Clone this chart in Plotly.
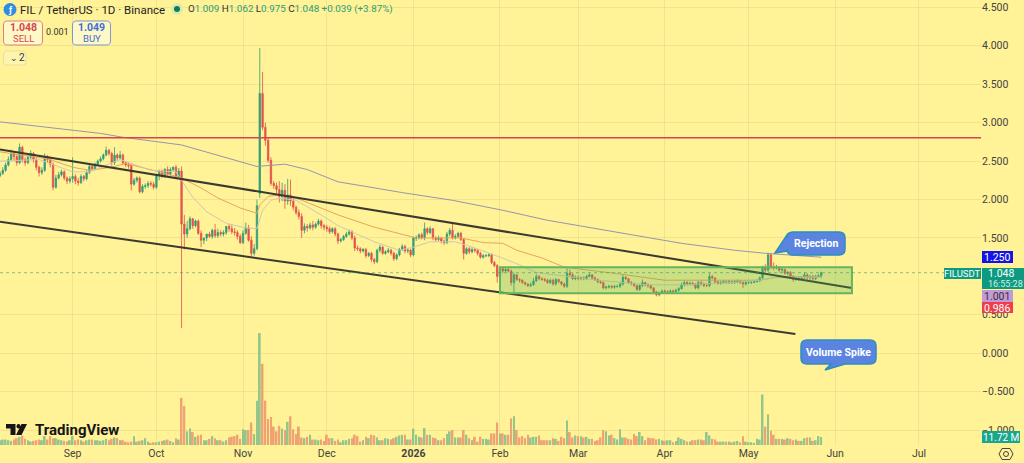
import pandas as pd
import plotly.graph_objects as go

# Daily FIL/USDT candles, 6 Aug 2025 to 27 May 2026
opens = [
    2.31,2.34,2.38,2.45,2.52,2.60,2.56,2.48,2.68,2.52,2.48,2.55,2.60,2.52,2.42,2.35,2.38,2.56,2.52,2.46,2.16,2.28,2.32,2.36,2.28,2.24,
    2.27,2.30,2.24,2.22,2.30,2.27,2.35,2.43,2.40,2.46,2.50,2.53,2.58,2.64,2.60,2.48,2.58,2.54,2.58,2.48,2.45,2.44,2.20,2.25,2.28,2.10,2.17,2.18,2.21,2.20,
    2.16,2.31,2.37,2.30,2.39,2.33,2.39,2.42,2.29,2.37,1.68,1.55,1.62,1.75,1.66,1.72,1.56,1.47,1.50,1.55,1.52,1.60,1.53,1.57,1.55,1.57,1.65,1.62,1.58,1.57,1.52,
    1.44,1.56,1.63,1.47,1.30,1.36,2.08,3.38,2.94,2.77,2.51,2.21,2.18,2.13,2.04,2.12,1.98,2.06,1.98,1.90,1.83,1.78,1.60,1.65,1.63,1.67,1.64,1.68,1.72,1.66,
    1.64,1.62,1.58,1.62,1.55,1.46,1.48,1.52,1.55,1.58,1.50,1.37,1.36,1.33,1.35,1.27,1.30,1.22,1.19,1.34,1.38,1.30,1.32,1.34,1.30,1.23,1.28,1.35,1.39,1.33,1.34,
    1.28,1.50,1.50,1.54,1.50,1.62,1.57,1.62,1.50,1.48,1.50,1.46,1.44,1.55,1.60,1.50,1.52,1.56,1.48,1.30,1.36,1.32,1.35,1.34,1.30,1.25,1.27,1.27,1.28,1.18,1.14,
    1.00,1.10,1.07,1.09,1.07,0.92,1.02,0.96,0.95,0.92,0.90,0.88,0.89,0.94,1.00,0.97,0.96,0.95,0.92,0.95,0.90,0.96,0.93,0.90,0.87,1.04,1.02,0.97,
    0.99,0.97,0.98,0.97,1.00,1.02,0.98,0.96,0.93,0.92,0.85,0.86,0.87,0.86,0.87,0.87,0.90,0.99,0.97,0.92,0.91,0.88,0.83,0.88,0.92,0.89,0.88,0.85,0.80,0.76,0.79,
    0.81,0.80,0.80,0.81,0.80,0.82,0.84,0.89,0.92,0.90,0.91,0.90,0.85,0.92,0.90,0.88,0.88,1.00,0.98,0.93,0.91,0.92,0.93,0.92,0.93,0.92,0.93,0.94,0.92,0.90,
    0.92,0.92,0.92,0.93,0.94,0.98,1.12,1.08,1.28,1.12,1.11,1.12,1.08,1.09,1.04,1.05,1.00,0.96,0.98,0.97,0.98,1.02,0.98,1.00,0.97,1.00,1.009,
]
highs = [
    2.37,2.42,2.48,2.56,2.65,2.62,2.58,2.73,2.70,2.55,2.58,2.64,2.62,2.55,2.44,2.42,2.60,2.58,2.54,2.48,2.32,2.36,2.39,2.38,2.30,2.30,
    2.55,2.33,2.28,2.33,2.32,2.38,2.45,2.46,2.48,2.52,2.56,2.60,2.69,2.66,2.62,2.68,2.60,2.63,2.60,2.50,2.48,2.46,2.28,2.30,2.30,2.20,2.21,2.24,2.24,2.23,
    2.33,2.39,2.39,2.41,2.43,2.42,2.43,2.45,2.41,2.43,1.80,1.72,1.78,1.76,1.74,1.74,1.60,1.50,1.53,1.58,1.62,1.68,1.62,1.60,1.60,1.60,1.68,1.67,1.63,1.60,1.55,
    1.60,1.70,1.67,1.52,1.42,2.00,3.97,3.66,3.00,2.80,2.55,2.24,2.22,2.24,2.22,2.20,2.27,2.26,2.04,1.92,1.87,1.82,1.69,1.68,1.70,1.72,1.70,1.75,1.74,1.68,
    1.67,1.65,1.64,1.64,1.57,1.50,1.54,1.58,1.61,1.60,1.53,1.40,1.38,1.37,1.37,1.32,1.32,1.24,1.36,1.41,1.40,1.34,1.37,1.36,1.32,1.30,1.37,1.42,1.41,1.37,1.36,
    1.52,1.53,1.56,1.57,1.70,1.64,1.65,1.63,1.52,1.53,1.51,1.48,1.58,1.63,1.70,1.55,1.58,1.58,1.49,1.38,1.38,1.38,1.37,1.35,1.32,1.29,1.29,1.30,1.30,1.20,1.16,
    1.12,1.12,1.12,1.11,1.09,1.05,1.03,0.98,0.96,0.93,0.91,0.92,0.98,1.03,1.02,0.99,0.98,0.97,0.97,0.97,0.98,0.97,0.94,0.92,1.11,1.09,1.04,1.01,
    1.01,1.00,1.00,1.02,1.04,1.03,1.00,0.97,0.95,0.93,0.88,0.89,0.89,0.89,0.89,0.92,1.03,1.00,0.98,0.94,0.92,0.89,0.90,0.96,0.93,0.91,0.89,0.86,0.81,0.80,0.83,
    0.83,0.82,0.83,0.83,0.84,0.86,0.92,0.95,0.94,0.93,0.93,0.91,0.94,0.94,0.92,0.90,1.04,1.02,0.99,0.94,0.94,0.95,0.94,0.95,0.94,0.95,0.96,0.95,0.93,0.94,
    0.94,0.94,0.95,0.96,1.00,1.14,1.16,1.31,1.30,1.18,1.15,1.13,1.11,1.10,1.07,1.07,1.02,1.00,1.00,1.00,1.05,1.04,1.02,1.02,1.02,1.03,1.062,
]
lows = [
    2.29,2.32,2.36,2.43,2.50,2.50,2.44,2.46,2.48,2.44,2.46,2.52,2.48,2.38,2.30,2.32,2.36,2.48,2.42,2.12,2.14,2.26,2.30,2.25,2.20,2.21,
    2.22,2.20,2.18,2.20,2.24,2.25,2.33,2.37,2.38,2.44,2.48,2.51,2.56,2.57,2.44,2.45,2.50,2.52,2.45,2.42,2.40,2.12,2.18,2.22,2.08,2.08,2.14,2.15,2.17,2.13,
    2.14,2.25,2.28,2.28,2.31,2.31,2.37,2.27,2.27,0.33,1.35,1.50,1.60,1.62,1.64,1.54,1.38,1.42,1.46,1.50,1.49,1.50,1.50,1.52,1.52,1.54,1.58,1.55,1.53,1.48,1.42,
    1.42,1.54,1.45,1.26,1.27,1.34,2.02,2.90,2.70,2.48,2.18,2.14,2.08,1.96,1.98,1.88,1.93,1.92,1.86,1.80,1.74,1.50,1.56,1.58,1.61,1.60,1.62,1.66,1.62,1.60,
    1.58,1.55,1.56,1.52,1.42,1.44,1.46,1.50,1.53,1.47,1.33,1.33,1.30,1.31,1.24,1.25,1.19,1.16,1.17,1.31,1.28,1.28,1.30,1.27,1.20,1.21,1.26,1.33,1.30,1.30,1.25,
    1.26,1.46,1.48,1.48,1.47,1.54,1.55,1.47,1.45,1.46,1.43,1.41,1.42,1.52,1.48,1.48,1.50,1.46,1.22,1.28,1.29,1.30,1.31,1.27,1.23,1.23,1.25,1.25,1.16,1.12,0.92,
    0.98,1.04,1.05,1.05,0.88,0.78,0.94,0.92,0.90,0.88,0.86,0.86,0.88,0.93,0.95,0.94,0.93,0.90,0.90,0.88,0.88,0.91,0.88,0.85,0.85,0.99,0.95,0.95,
    0.95,0.95,0.95,0.95,0.99,0.96,0.94,0.91,0.90,0.83,0.83,0.84,0.84,0.84,0.85,0.85,0.88,0.95,0.90,0.88,0.86,0.81,0.81,0.86,0.87,0.85,0.83,0.78,0.74,0.74,0.77,
    0.78,0.78,0.78,0.78,0.78,0.80,0.83,0.87,0.88,0.88,0.88,0.83,0.83,0.88,0.86,0.86,0.86,0.96,0.91,0.89,0.89,0.90,0.90,0.90,0.90,0.90,0.91,0.90,0.85,0.88,
    0.90,0.90,0.91,0.92,0.93,0.96,1.05,1.06,1.10,1.08,1.09,1.05,1.05,1.02,1.01,0.98,0.93,0.94,0.94,0.95,0.96,0.95,0.95,0.94,0.95,0.98,0.975,
]
closes = [
    2.34,2.38,2.45,2.52,2.60,2.56,2.48,2.68,2.52,2.48,2.55,2.60,2.52,2.42,2.35,2.38,2.56,2.52,2.46,2.16,2.28,2.32,2.36,2.28,2.24,2.27,
    2.30,2.24,2.22,2.30,2.27,2.35,2.43,2.40,2.46,2.50,2.53,2.58,2.64,2.60,2.48,2.58,2.54,2.58,2.48,2.45,2.44,2.20,2.25,2.28,2.10,2.17,2.18,2.21,2.20,2.16,
    2.31,2.37,2.30,2.39,2.33,2.39,2.42,2.29,2.37,1.68,1.55,1.62,1.75,1.66,1.72,1.56,1.47,1.50,1.55,1.52,1.60,1.53,1.57,1.55,1.57,1.65,1.62,1.58,1.57,1.52,1.44,
    1.56,1.63,1.47,1.30,1.36,1.92,3.38,2.94,2.77,2.51,2.21,2.18,2.13,2.04,2.12,1.98,2.06,1.98,1.90,1.83,1.78,1.60,1.65,1.63,1.67,1.64,1.68,1.72,1.66,1.64,
    1.62,1.58,1.62,1.55,1.46,1.48,1.52,1.55,1.58,1.50,1.37,1.36,1.33,1.35,1.27,1.30,1.22,1.19,1.34,1.38,1.30,1.32,1.34,1.30,1.23,1.28,1.35,1.39,1.33,1.34,1.28,
    1.50,1.50,1.54,1.50,1.62,1.57,1.62,1.50,1.48,1.50,1.46,1.44,1.55,1.60,1.50,1.52,1.56,1.48,1.30,1.36,1.32,1.35,1.34,1.30,1.25,1.27,1.27,1.28,1.18,1.14,1.00,
    1.10,1.07,1.09,1.07,0.92,1.02,0.96,0.95,0.92,0.90,0.88,0.89,0.94,1.00,0.97,0.96,0.95,0.92,0.95,0.90,0.96,0.93,0.90,0.87,1.04,1.02,0.97,0.99,
    0.97,0.98,0.97,1.00,1.02,0.98,0.96,0.93,0.92,0.85,0.86,0.87,0.86,0.87,0.87,0.90,0.99,0.97,0.92,0.91,0.88,0.83,0.88,0.92,0.89,0.88,0.85,0.80,0.76,0.79,0.81,
    0.80,0.80,0.81,0.80,0.82,0.84,0.89,0.92,0.90,0.91,0.90,0.85,0.92,0.90,0.88,0.88,1.00,0.98,0.93,0.91,0.92,0.93,0.92,0.93,0.92,0.93,0.94,0.92,0.90,0.92,
    0.92,0.92,0.93,0.94,0.98,1.12,1.08,1.28,1.12,1.11,1.12,1.08,1.09,1.04,1.05,1.00,0.96,0.98,0.97,0.98,1.02,0.98,1.00,0.97,1.00,1.009,1.048,
]
# Daily volume in millions of FIL
volumes = [
    7,8,8,7,6,8,10,12,14,9,7,5,6,7,8,7,13,8,13,10,10,8,7,6,5,7,
    13,7,8,7,5,7,8,8,7,7,6,7,9,7,9,11,10,7,7,5,4,5,13,5,6,7,10,5,3,4,
    4,5,6,7,8,6,4,10,8,69,57,20,24,19,12,14,15,7,7,9,13,10,7,7,5,7,11,12,13,15,9,
    23,22,22,33,16,65,164,119,65,38,41,27,20,28,24,22,34,42,23,16,27,11,10,12,15,8,8,7,8,6,
    15,10,10,6,8,4,7,7,9,10,15,13,5,7,12,10,15,14,11,7,7,10,9,8,10,12,14,15,15,8,8,
    24,15,12,11,25,15,15,11,10,7,7,10,16,20,22,11,11,11,22,15,10,7,12,5,12,9,9,8,17,17,33,
    17,17,15,15,39,42,22,11,13,10,15,11,12,12,14,7,7,7,7,10,9,6,12,10,36,19,11,14,
    13,13,11,12,9,9,6,7,11,22,20,14,15,10,8,23,11,11,9,8,16,13,19,13,7,11,10,10,8,9,7,
    6,7,7,4,6,11,9,7,5,5,7,7,8,8,7,19,14,9,8,5,5,5,5,5,4,5,6,4,13,5,
    4,4,3,9,8,74,27,45,21,15,9,9,9,8,10,9,7,8,6,6,10,11,11,6,7,13,11.72,
]
dates = pd.date_range("2025-08-06", periods=len(closes), freq="D")

# Moving averages, sampled at the dates where they bend
ema_long_dates = ["2025-08-06","2025-09-11","2025-09-19","2025-10-10","2025-11-06","2025-11-16","2025-11-24","2025-12-05","2025-12-15","2025-12-28","2026-01-15","2026-02-02","2026-02-18","2026-03-14","2026-04-07","2026-04-26","2026-05-07","2026-05-27"]
ema_long_vals = [3.01,2.86,2.81,2.71,2.43,2.46,2.39,2.23,2.17,2.09,1.99,1.86,1.73,1.58,1.43,1.34,1.30,1.25]
ema_mid_dates = ["2025-08-06","2025-08-23","2025-09-01","2025-09-07","2025-09-15","2025-09-20","2025-10-02","2025-10-10","2025-10-17","2025-10-23","2025-10-31","2025-11-06","2025-11-07","2025-11-10","2025-11-14","2025-11-20","2025-12-05","2025-12-18","2026-01-02","2026-01-18","2026-01-26","2026-02-02","2026-02-07","2026-02-16","2026-02-24","2026-03-14","2026-04-01","2026-05-05","2026-05-11","2026-05-27"]
ema_mid_vals = [2.62,2.53,2.42,2.38,2.42,2.47,2.36,2.28,2.15,2.02,1.89,1.82,1.93,2.04,2.06,2.02,1.80,1.64,1.50,1.50,1.44,1.43,1.34,1.24,1.12,1.04,0.95,0.95,0.99,1.00]
ema_short_dates = ["2025-08-06","2025-08-20","2025-09-01","2025-09-07","2025-09-18","2025-09-29","2025-10-08","2025-10-10","2025-10-14","2025-10-19","2025-10-26","2025-11-02","2025-11-06","2025-11-08","2025-11-11","2025-11-14","2025-11-20","2025-11-29","2025-12-05","2025-12-18","2025-12-27","2026-01-01","2026-01-07","2026-01-16","2026-01-23","2026-02-01","2026-02-08","2026-02-14","2026-02-27","2026-03-08","2026-03-26","2026-04-07","2026-04-25","2026-05-05","2026-05-11","2026-05-27"]
ema_short_vals = [2.50,2.52,2.36,2.36,2.52,2.38,2.36,2.25,2.03,1.84,1.69,1.63,1.62,1.86,1.99,2.02,1.99,1.80,1.66,1.45,1.34,1.38,1.45,1.45,1.37,1.25,1.15,1.05,0.99,0.95,0.89,0.89,0.92,0.95,0.99,0.986]

# Descending channel drawn on the chart
channel_upper_dates = ["2025-08-06","2026-06-07"]
channel_upper_vals = [2.65,0.85]
channel_lower_dates = ["2025-08-06","2026-05-17 18:00"]
channel_lower_vals = [1.71,0.25]
range_dates = ["2026-02-01","2026-06-07"]
range_prices = [0.78,1.12]
resistance_price = 2.805
last_price = 1.048

price_ticks = [4.5,4.0,3.5,3.0,2.5,2.0,1.5,0.5,0.0,-0.5,-1.0]
price_tick_text = ["4.500","4.000","3.500","3.000","2.500","2.000","1.500","0.500","0.000","−0.500","−1.000"]
month_ticks = ["2025-09-01","2025-10-01","2025-11-01","2025-12-01","2026-01-01","2026-02-01","2026-03-01","2026-04-01","2026-05-01","2026-06-01","2026-07-01"]
month_text = ["Sep","Oct","Nov","Dec","<b>2026</b>","Feb","Mar","Apr","May","Jun","Jul"]

BG = "#FFF297"
UP = "#2E9C78"
DOWN = "#E2504C"
VOL_UP = "#93C58C"
VOL_DOWN = "#EFA273"
GRID = "rgba(150,140,90,0.13)"
FONT = "Roboto"
PLOT_W, PLOT_H = 981, 445


def px(x):
    return x / PLOT_W


def py(y):
    return 1 - y / PLOT_H


def rounded_path(x0, y0, x1, y1, r, tail=None):
    """Rounded box in pixel terms, with an optional speech-bubble tail."""
    def pt(x, y):
        return f"{px(x):.5f},{py(y):.5f}"
    parts = [f"M{pt(x0 + r, y0)}", f"L{pt(x1 - r, y0)}", f"Q{pt(x1, y0)} {pt(x1, y0 + r)}",
             f"L{pt(x1, y1 - r)}", f"Q{pt(x1, y1)} {pt(x1 - r, y1)}"]
    if tail and tail["side"] == "bottom":
        parts += [f"L{pt(tail['b'], y1)}", f"L{pt(*tail['tip'])}", f"L{pt(tail['a'], y1)}"]
    parts += [f"L{pt(x0 + r, y1)}", f"Q{pt(x0, y1)} {pt(x0, y1 - r)}"]
    if tail and tail["side"] == "left":
        parts += [f"L{pt(x0, tail['b'])}", f"L{pt(*tail['tip'])}", f"L{pt(x0, tail['a'])}"]
    parts += [f"L{pt(x0, y0 + r)}", f"Q{pt(x0, y0)} {pt(x0 + r, y0)}", "Z"]
    return " ".join(parts)


def label(x, y, text, size=11, color="#333", anchor="left", **kw):
    return dict(xref="paper", yref="paper", x=px(x), y=py(y), text=text, showarrow=False,
                xanchor=anchor, yanchor="middle", font=dict(size=size, color=color, family=FONT), **kw)


def tag_box(x0, y0, x1, y1, color):
    return dict(type="rect", xref="paper", yref="paper", x0=px(x0), x1=px(x1), y0=py(y1), y1=py(y0),
                fillcolor=color, line_width=0)


vol_colors = [VOL_UP if c >= o else VOL_DOWN for o, c in zip(opens, closes)]

fig = go.Figure()
fig.add_trace(go.Bar(x=dates, y=volumes, yaxis="y2", marker=dict(color=vol_colors, line_width=0), hoverinfo="skip"))
fig.add_trace(go.Candlestick(
    x=dates, open=opens, high=highs, low=lows, close=closes, yaxis="y", whiskerwidth=0,
    increasing=dict(line=dict(color=UP, width=0.8), fillcolor=UP),
    decreasing=dict(line=dict(color=DOWN, width=0.8), fillcolor=DOWN),
))
for xs, ys, color, width in [
    (ema_long_dates, ema_long_vals, "#9596AE", 1),
    (ema_mid_dates, ema_mid_vals, "#E9A45E", 1),
    (ema_short_dates, ema_short_vals, "#CFC9B4", 1),
    (channel_upper_dates, channel_upper_vals, "#3A3A30", 2),
    (channel_lower_dates, channel_lower_vals, "#3A3A30", 2),
]:
    fig.add_trace(go.Scatter(x=xs, y=ys, mode="lines", line=dict(color=color, width=width), hoverinfo="skip"))

shapes = [
    dict(type="rect", xref="x", yref="y", x0=range_dates[0], x1=range_dates[1], y0=range_prices[0], y1=range_prices[1],
         fillcolor="rgba(76,175,80,0.28)", line=dict(color="#63B560", width=2)),
    dict(type="line", xref="paper", yref="y", x0=0, x1=1, y0=resistance_price, y1=resistance_price,
         line=dict(color="#D9434F", width=1.5)),
    dict(type="line", xref="paper", yref="y", x0=0, x1=1, y0=last_price, y1=last_price,
         line=dict(color="rgba(40,150,110,0.55)", width=1, dash="dot")),
    # Callouts
    dict(type="path", xref="paper", yref="paper", fillcolor="#5B84E0", line=dict(color="#2B8FBE", width=1.5),
         path=rounded_path(787, 232, 845, 255, 6, dict(side="left", a=235, b=251, tip=(775, 253)))),
    dict(type="path", xref="paper", yref="paper", fillcolor="#5B84E0", line=dict(color="#2B8FBE", width=1.5),
         path=rounded_path(801, 340, 876, 364, 6, dict(side="bottom", a=831, b=845, tip=(825, 370)))),
    # Sell / buy / collapse buttons
    dict(type="path", xref="paper", yref="paper", fillcolor="rgba(255,250,215,0.75)", line=dict(color="#D9808A", width=1),
         path=rounded_path(3.5, 21, 42.5, 45, 4)),
    dict(type="path", xref="paper", yref="paper", fillcolor="rgba(255,250,215,0.75)", line=dict(color="#7F97D0", width=1),
         path=rounded_path(72.5, 21, 110.5, 45, 4)),
    dict(type="path", xref="paper", yref="paper", fillcolor="rgba(255,250,215,0.35)", line=dict(color="#E9DFA0", width=1),
         path=rounded_path(3.5, 51, 26, 65, 3)),
    # Symbol icon and market status dot
    dict(type="circle", xref="paper", yref="paper", x0=px(3.5), x1=px(16.5), y0=py(16), y1=py(3), fillcolor="#2F8EE0", line_width=0),
    dict(type="circle", xref="paper", yref="paper", x0=px(171), x1=px(183), y0=py(15), y1=py(3), fillcolor="#DDEBA8", line_width=0),
    dict(type="circle", xref="paper", yref="paper", x0=px(174), x1=px(180), y0=py(12), y1=py(6), fillcolor="#0B7C5E", line_width=0),
    # Wordmark glyph
    dict(type="path", xref="paper", yref="paper", fillcolor="#15151A", line_width=0,
         path=f"M{px(6)},{py(424)} L{px(15.5)},{py(424)} L{px(15.5)},{py(435)} L{px(10.5)},{py(435)} L{px(10.5)},{py(428.5)} L{px(6)},{py(428.5)} Z"),
    dict(type="circle", xref="paper", yref="paper", x0=px(16.5), x1=px(20.5), y0=py(428.5), y1=py(424), fillcolor="#15151A", line_width=0),
    dict(type="path", xref="paper", yref="paper", fillcolor="#15151A", line_width=0,
         path=f"M{px(21.5)},{py(424)} L{px(27)},{py(424)} L{px(21.5)},{py(435)} L{px(16)},{py(435)} Z"),
    # Axis settings icon
    dict(type="path", xref="paper", yref="paper", fillcolor="rgba(0,0,0,0)", line=dict(color="#444", width=1),
         path=f"M{px(1002)},{py(448.5)} L{px(1010)},{py(448.5)} L{px(1013)},{py(454)} L{px(1010)},{py(459.5)} L{px(1002)},{py(459.5)} L{px(999)},{py(454)} Z"),
    dict(type="circle", xref="paper", yref="paper", x0=px(1003.5), x1=px(1008.5), y0=py(456.5), y1=py(451.5), fillcolor="rgba(0,0,0,0)", line=dict(color="#444", width=1)),
    # Price tags on the axis
    tag_box(982, 251, 1013, 263, "#1414E6"),
    tag_box(982, 268, 1024, 289, "#0E9A80"),
    tag_box(944, 268, 981, 279, "#0E9A80"),
    tag_box(982, 290, 1013, 302, "#C39AD6"),
    tag_box(982, 302, 1013, 313, "#EE3E4E"),
    tag_box(982, 431, 1020, 443, "#1AA68E"),
]

G = "#2E9C78"
ohlc = (f'O<span style="color:{G}">1.009</span> H<span style="color:{G}">1.062</span> '
        f'L<span style="color:{G}">0.975</span> C<span style="color:{G}">1.048</span> '
        f'<span style="color:{G}">+0.039 (+3.87%)</span>')
annotations = [
    label(18, 10, "FIL / TetherUS · 1D · Binance", size=11.5, color="#222"),
    label(186, 9, ohlc, size=9.8, color="#333"),
    label(10, 10, "<b>ƒ</b>", size=9, color="#fff", anchor="center"),
    label(23, 28, "<b>1.048</b>", size=10.5, color="#D8474F", anchor="center"),
    label(23, 38.5, "SELL", size=9.5, color="#D8474F", anchor="center"),
    label(57.5, 32, "0.001", size=9, color="#333", anchor="center"),
    label(91.5, 28, "<b>1.049</b>", size=10.5, color="#3D6FD8", anchor="center"),
    label(91.5, 38.5, "BUY", size=9.5, color="#3D6FD8", anchor="center"),
    label(8, 58, "⌄", size=9, color="#333", anchor="left"),
    label(17, 57.5, "2", size=10, color="#333", anchor="left"),
    label(816, 243, "<b>Rejection</b>", size=10.5, color="#fff", anchor="center"),
    label(838.5, 352, "<b>Volume Spike</b>", size=10.5, color="#fff", anchor="center"),
    label(33, 430, "<b>TradingView</b>", size=15, color="#15151A"),
    label(997.5, 257, "1.250", size=10.5, color="#fff", anchor="center"),
    label(986, 273.5, "1.048", size=10.5, color="#fff"),
    label(986, 283.5, "16:55:28", size=9, color="#D5F0E6"),
    label(962.5, 273.5, "FILUSDT", size=9.5, color="#fff", anchor="center"),
    label(997.5, 296, "1.001", size=10.5, color="#333", anchor="center"),
    label(997.5, 308, "0.986", size=10.5, color="#fff", anchor="center"),
    label(1001, 437, "11.72 M", size=10, color="#fff", anchor="center"),
]

fig.update_layout(
    width=1024, height=463, margin=dict(l=0, r=43, t=0, b=18),
    paper_bgcolor=BG, plot_bgcolor=BG, showlegend=False, bargap=0.35,
    font=dict(family=FONT, size=11, color="#444"),
    shapes=shapes, annotations=annotations, hovermode=False,
    xaxis=dict(type="date", range=["2025-08-06", "2026-07-23 05:00"], rangeslider=dict(visible=False),
               tickvals=month_ticks, ticktext=month_text, tickangle=0, ticks="", showline=False, zeroline=False,
               showgrid=True, gridcolor=GRID, gridwidth=1, tickfont=dict(size=10.5, color="#444")),
    yaxis=dict(side="right", range=[-1.194, 4.596], tickvals=price_ticks, ticktext=price_tick_text, ticks="",
               showline=False, zeroline=False, showgrid=True, gridcolor=GRID, gridwidth=1,
               tickfont=dict(size=10.5, color="#444")),
    yaxis2=dict(overlaying="y", range=[0, 652], visible=False),
)
fig.write_html("out.html", config=dict(displayModeBar=False))
